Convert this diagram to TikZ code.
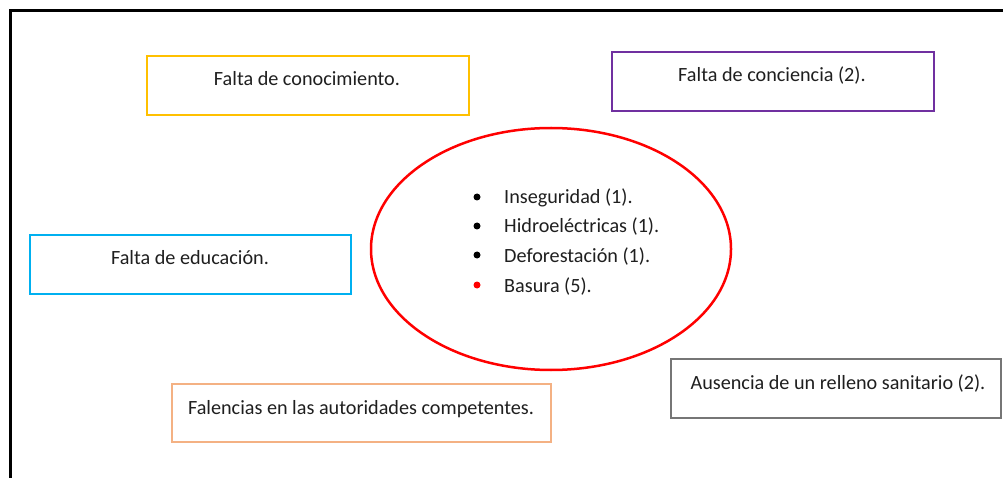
\documentclass[tikz,border=0pt]{standalone}
\usepackage{fontspec}
\setmainfont{Carlito}
\definecolor{cyel}{HTML}{FFC000}
\definecolor{cpur}{HTML}{7030A0}
\definecolor{ccya}{HTML}{00B0F0}
\definecolor{cpea}{HTML}{F4B183}
\definecolor{cgry}{HTML}{767676}
\definecolor{cred}{HTML}{FF0000}
\begin{document}
\begin{tikzpicture}[x=1pt,y=-1pt,
  box/.style={draw,line width=2pt},
  lbl/.style={anchor=base,font=\fontsize{20.2}{24}\selectfont,text=black!88,inner sep=0pt},
  bul/.style={circle,fill,inner sep=0pt,minimum size=7pt}]
\useasboundingbox (0,0) rectangle (1003,478);
\fill[white] (0,0) rectangle (1003,478);
\draw[line width=3pt] (10,490) -- (10,11) -- (1010,11);
\draw[box,cyel] (147,56) rectangle (469,115);
\node[lbl] (t1) at (307,86) {Falta de conocimiento.};
\draw[box,cpur] (612,52) rectangle (934,111);
\node[lbl] (t2) at (772,82) {Falta de conciencia (2).};
\draw[box,ccya] (30,235) rectangle (351,294);
\node[lbl] (t3) at (190,264) {Falta de educación.};
\draw[box,cpea] (172,384) rectangle (551,442);
\node[lbl] (t4) at (361,414) {Falencias en las autoridades competentes.};
\draw[box,cgry] (671,359) rectangle (1001,418);
\node[lbl] (t5) at (838,389) {Ausencia de un relleno sanitario (2).};
\draw[cred,line width=2.5pt] (551,249) ellipse [x radius=180,y radius=121];
\foreach \t/\y/\c [count=\i] in {Inseguridad (1)./204/black,Hidroeléctricas (1)./233/black,Deforestación (1)./262/black,Basura (5)./292/cred}{
  \node[bul,\c] (b\i) at (477,\y-7) {};
  \node[lbl,anchor=base west] (l\i) at (504,\y) {\t};
}
\end{tikzpicture}
\end{document}
